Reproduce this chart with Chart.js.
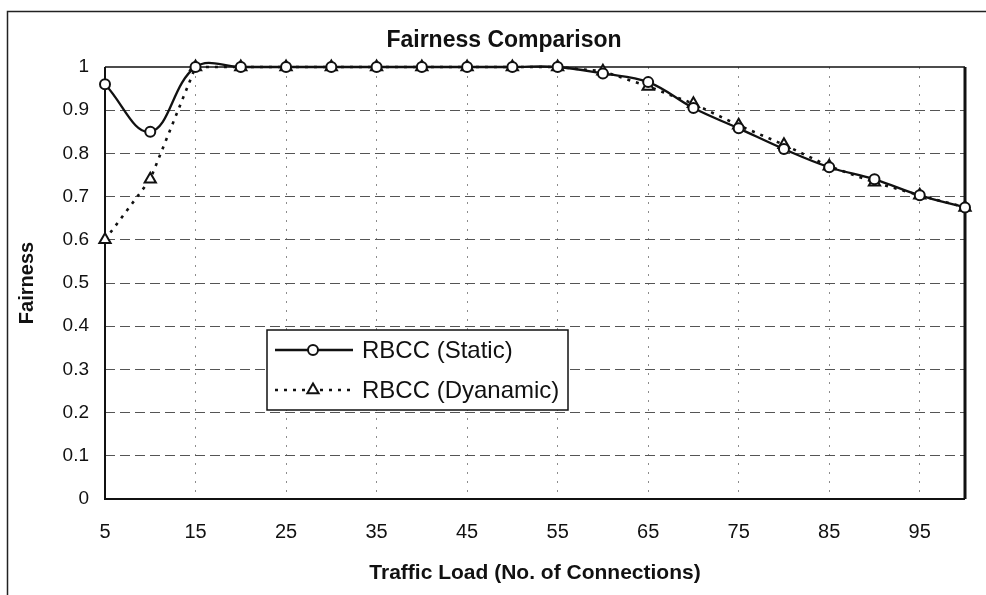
<!DOCTYPE html>
<html>
<head>
<meta charset="utf-8">
<script src="https://cdn.jsdelivr.net/npm/chart.js@4.4.1/dist/chart.umd.min.js"></script>
<style>
  html, body { margin: 0; padding: 0; background: #ffffff; }
  #wrap { width: 986px; height: 595px; position: relative; overflow: hidden; }
</style>
</head>
<body>
<div id="wrap"><canvas id="chart" width="986" height="595"></canvas></div>
<script>
// Traffic load (number of connections) on the x axis
const loads = [5, 10, 15, 20, 25, 30, 35, 40, 45, 50, 55, 60, 65, 70, 75, 80, 85, 90, 95, 100];

// Fairness index for each scheme
const staticFairness  = [0.96, 0.85, 1, 1, 1, 1, 1, 1, 1, 1, 1, 0.985, 0.965, 0.905, 0.858, 0.81, 0.768, 0.74, 0.703, 0.675];
const dynamicFairness = [0.60, 0.74, 1, 1, 1, 1, 1, 1, 1, 1, 1, 0.99, 0.955, 0.915, 0.865, 0.82, 0.77, 0.733, 0.703, 0.675];

const seriesNames = ['RBCC (Static)', 'RBCC (Dyanamic)'];
const yTickLabels = ['0', '0.1', '0.2', '0.3', '0.4', '0.5', '0.6', '0.7', '0.8', '0.9', '1'];

const chartTitle = 'Fairness Comparison';
const xTitle = 'Traffic Load (No. of Connections)';
const yTitle = 'Fairness';

const FONT = '"Liberation Sans", Arial, Helvetica, sans-serif';
const INK = '#111111';

// Outer frame and the centred chart heading
const framePlugin = {
  id: 'frameAndTitle',
  beforeDraw(chart) {
    const ctx = chart.ctx;
    ctx.save();
    ctx.fillStyle = '#ffffff';
    ctx.fillRect(0, 0, chart.width, chart.height);
    ctx.strokeStyle = '#222222';
    ctx.lineWidth = 1.5;
    ctx.strokeRect(7.5, 11.5, 1010, 700);
    ctx.fillStyle = INK;
    ctx.font = 'bold 23px ' + FONT;
    ctx.textAlign = 'center';
    ctx.textBaseline = 'middle';
    ctx.fillText(chartTitle, 504, 41);
    ctx.restore();
  }
};

// Solid border round the plot area
const plotBorder = {
  id: 'plotBorder',
  beforeDatasetsDraw(chart) {
    const {ctx, chartArea: a} = chart;
    ctx.save();
    ctx.strokeStyle = INK;
    ctx.lineWidth = 1.5;
    ctx.beginPath();
    ctx.moveTo(a.left, a.top);
    ctx.lineTo(a.right, a.top);
    ctx.stroke();
    ctx.lineWidth = 2;
    ctx.beginPath();
    ctx.moveTo(a.left, a.top);
    ctx.lineTo(a.left, a.bottom);
    ctx.lineTo(a.right, a.bottom);
    ctx.stroke();
    ctx.lineWidth = 3;
    ctx.beginPath();
    ctx.moveTo(a.right, a.top);
    ctx.lineTo(a.right, a.bottom);
    ctx.stroke();
    ctx.restore();
  }
};

// Boxed legend inside the plot, each row showing line style + marker
const boxedLegend = {
  id: 'boxedLegend',
  afterDatasetsDraw(chart, args, opts) {
    const ctx = chart.ctx;
    const {x, y, w, h} = opts;
    ctx.save();
    ctx.fillStyle = '#ffffff';
    ctx.fillRect(x, y, w, h);
    ctx.strokeStyle = INK;
    ctx.lineWidth = 1.5;
    ctx.strokeRect(x, y, w, h);
    chart.data.datasets.forEach((ds, i) => {
      const rowY = y + 20 + i * 40;
      ctx.strokeStyle = ds.borderColor;
      ctx.lineWidth = ds.borderWidth;
      ctx.setLineDash(ds.borderDash || []);
      ctx.lineCap = ds.borderCapStyle || 'butt';
      ctx.beginPath();
      ctx.moveTo(x + 8, rowY);
      ctx.lineTo(x + 86, rowY);
      ctx.stroke();
      ctx.setLineDash([]);
      ctx.fillStyle = ds.pointBackgroundColor;
      ctx.strokeStyle = ds.pointBorderColor;
      ctx.lineWidth = ds.pointBorderWidth;
      Chart.helpers.drawPoint(ctx, {
        pointStyle: ds.pointStyle,
        rotation: 0,
        radius: ds.pointRadius,
        borderWidth: ds.pointBorderWidth
      }, x + 46, rowY);
      ctx.fillStyle = INK;
      ctx.font = '24px ' + FONT;
      ctx.textAlign = 'left';
      ctx.textBaseline = 'middle';
      ctx.fillText(ds.label, x + 95, rowY + 1);
    });
    ctx.restore();
  }
};

new Chart(document.getElementById('chart').getContext('2d'), {
  type: 'line',
  data: {
    labels: loads,
    datasets: [
      {
        label: seriesNames[0],
        data: staticFairness,
        borderColor: INK,
        borderWidth: 2.3,
        tension: 0.4,
        capBezierPoints: false,
        pointStyle: 'circle',
        pointRadius: 5,
        pointBorderWidth: 2,
        pointBackgroundColor: '#ffffff',
        pointBorderColor: INK,
        clip: 12
      },
      {
        label: seriesNames[1],
        data: dynamicFairness,
        borderColor: INK,
        borderWidth: 2.6,
        borderDash: [3, 6],
        tension: 0,
        pointStyle: 'triangle',
        pointRadius: 6.5,
        pointBorderWidth: 2,
        pointBackgroundColor: '#ffffff',
        pointBorderColor: INK,
        clip: 12
      }
    ]
  },
  options: {
    responsive: false,
    animation: false,
    devicePixelRatio: 1,
    layout: { padding: { top: 67, right: 16, left: 0, bottom: 0 } },
    plugins: {
      legend: { display: false },
      title: { display: false },
      tooltip: { enabled: false },
      boxedLegend: { x: 267, y: 330, w: 301, h: 80 }
    },
    scales: {
      x: {
        type: 'category',
        offset: false,
        afterFit(scale) { scale.height = 96; },
        border: { display: false, dash: [2, 7] },
        grid: {
          drawTicks: false,
          lineWidth: 1,
          color: (c) => (c.index > 0 && c.index % 2 === 0) ? '#8c8c8c' : 'rgba(0,0,0,0)'
        },
        ticks: {
          autoSkip: false,
          maxRotation: 0,
          padding: 21,
          color: INK,
          font: { family: FONT, size: 20 },
          callback: (v, i) => (i % 2 === 0 ? String(loads[i]) : '')
        },
        title: {
          display: true,
          text: xTitle,
          color: INK,
          font: { family: FONT, size: 21, weight: 'bold' },
          padding: { top: 0, bottom: 9 }
        }
      },
      y: {
        min: 0,
        max: 1,
        afterFit(scale) { scale.width = 105; },
        border: { display: false, dash: [10, 5] },
        grid: {
          drawTicks: false,
          lineWidth: 1,
          color: (c) => (c.index === 0 || c.index === 10) ? 'rgba(0,0,0,0)' : '#555555'
        },
        ticks: {
          stepSize: 0.1,
          padding: 16,
          color: INK,
          font: { family: FONT, size: 19 },
          callback: (v, i) => yTickLabels[i]
        },
        title: {
          display: true,
          text: yTitle,
          color: INK,
          font: { family: FONT, size: 20, weight: 'bold' },
          padding: { top: 15, bottom: 0 }
        }
      }
    }
  },
  plugins: [framePlugin, plotBorder, boxedLegend]
});
</script>
</body>
</html>
